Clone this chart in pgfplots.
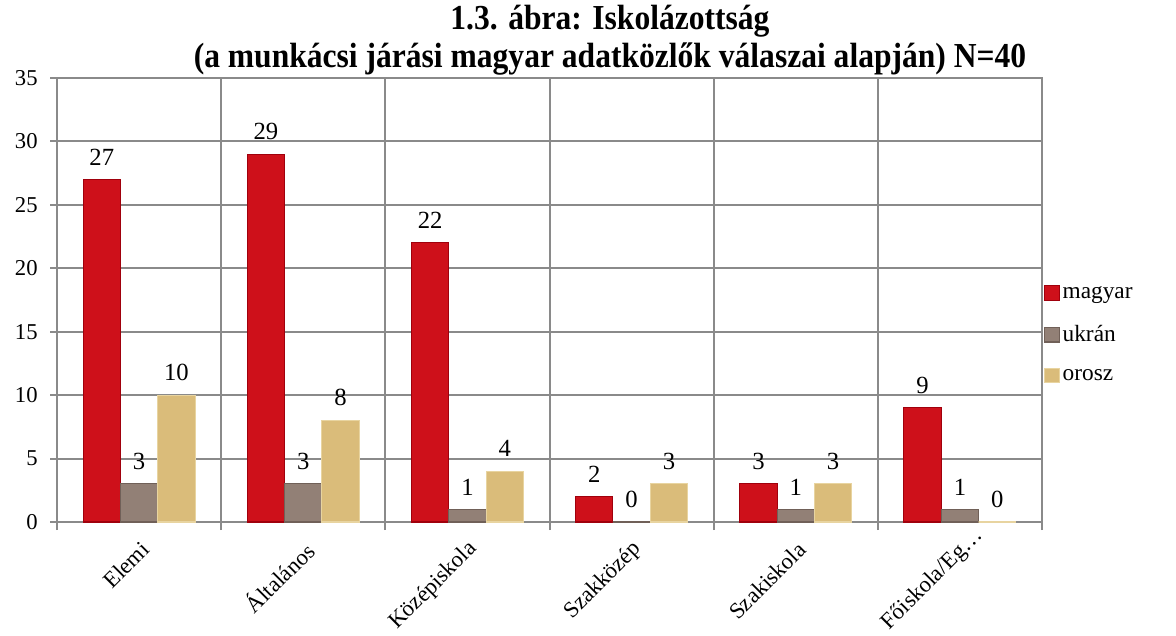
\documentclass[border=0pt]{standalone}
\usepackage{pgfplots}
\pgfplotsset{compat=1.18}
\usepackage{fontspec}
\setmainfont{Liberation Serif}
\newfontfamily\titlefont[FakeStretch=0.9]{Liberation Serif}
\definecolor{cmagyar}{RGB}{206,16,26}
\definecolor{cmagyarD}{RGB}{160,0,12}
\definecolor{cukran}{RGB}{146,128,118}
\definecolor{cukranD}{RGB}{112,96,88}
\definecolor{corosz}{RGB}{218,188,122}
\definecolor{coroszD}{RGB}{232,212,160}
\definecolor{gridgray}{RGB}{138,138,138}
\begin{document}
\begin{tikzpicture}
\path[use as bounding box] (-42.75pt,-84.75pt) rectangle (839.25pt,391.5pt);
\begin{axis}[
  at={(0,0)}, anchor=south west,
  scale only axis, width=738.75pt, height=333pt,
  ymin=0, ymax=35, ytick={0,5,...,35},
  xmin=-0.5, xmax=5.5,
  xtick={0,...,5},
  xticklabels={Elemi, Általános, Középiskola, Szakközép, Szakiskola, {Főiskola/Eg…\kern-14pt}},
  minor xtick={-0.5,0.5,...,5.5},
  major x tick style={draw=none},
  xminorgrids=true, ymajorgrids=true,
  grid style={draw=gridgray, line width=1.5pt},
  axis line style={draw=gridgray, line width=1.5pt},
  tick style={draw=gridgray, line width=1.5pt},
  tick align=outside, tick pos=left,
  major tick length=5pt, minor tick length=6pt,
  /pgf/number format/assume math mode=true,
  yticklabel style={font=\fontsize{17}{20}\selectfont, xshift=-6pt},
  xticklabel style={font=\fontsize{17}{20}\selectfont, rotate=45, anchor=east, inner sep=0pt, xshift=-5.7pt, yshift=-12.5pt},
  ybar=0pt, bar width=28pt,
  nodes near coords,
  nodes near coords style={font=\fontsize{18.5}{20}\selectfont, anchor=south, yshift=7pt, text=black},
  title={1.3. ábra: Iskolázottság\\(a munkácsi járási magyar adatközlők válaszai alapján) N=40},
  title style={font=\titlefont\bfseries\fontsize{26.3}{28.5}\selectfont, align=center, at={(0.5614,1)}, anchor=south, inner sep=0pt, yshift=-4pt},
  legend style={at={(1.002,0.423)}, anchor=west, draw=none, fill=none, font=\fontsize{17.5}{20}\selectfont, row sep=15pt, inner sep=0pt},
  legend cell align=left,
  legend image code/.code={\draw[#1, line width=0.8pt] (0pt,-5.5pt) rectangle (11pt,5.5pt);},
]
\addplot[fill=cmagyar, draw=cmagyarD, line width=0.8pt] coordinates {(0,27) (1,29) (2,22) (3,2) (4,3) (5,9)};
\addplot[fill=cukran, draw=cukranD, line width=0.8pt] coordinates {(0,3) (1,3) (2,1) (3,0) (4,1) (5,1)};
\addplot[fill=corosz, draw=coroszD, line width=0.8pt] coordinates {(0,10) (1,8) (2,4) (3,3) (4,3) (5,0)};
\legend{magyar, ukrán, orosz}
\end{axis}
\end{tikzpicture}
\end{document}
